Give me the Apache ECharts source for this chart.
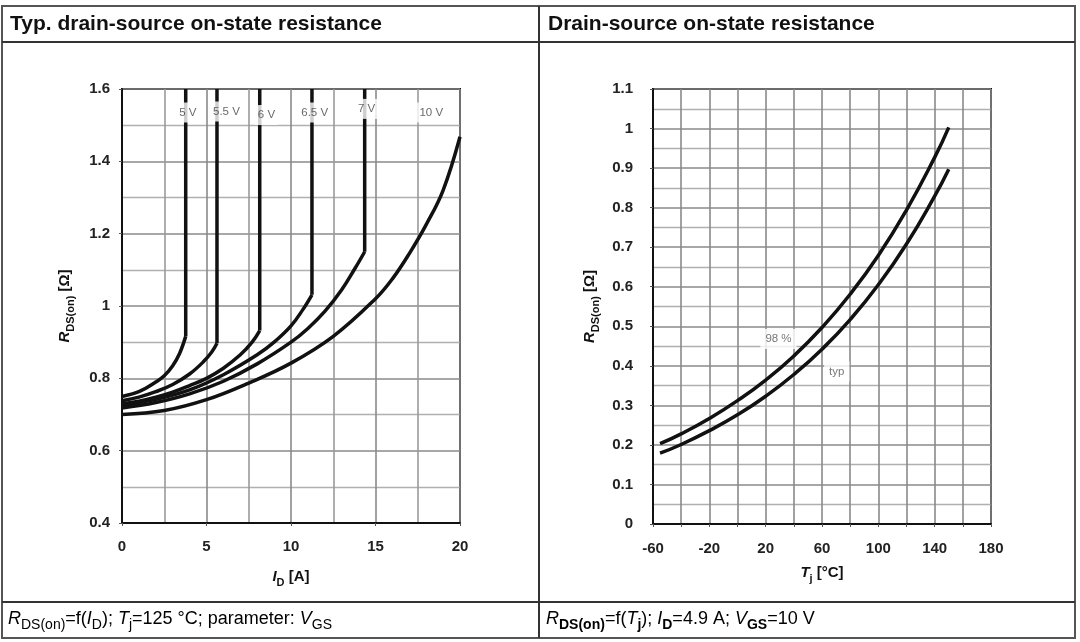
<!DOCTYPE html>
<html>
<head>
<meta charset="utf-8">
<script src="https://cdn.jsdelivr.net/npm/echarts@6/dist/echarts.min.js"></script>
<style>
html,body{margin:0;padding:0;background:#fff;}
#chart{width:1080px;height:642px;}
</style>
</head>
<body>
<div id="chart"></div>
<script>
// ---------- Left chart: RDS(on) vs ID, parameter VGS ----------
const vgsNames = ['5 V', '5.5 V', '6 V', '6.5 V', '7 V', '10 V'];
const curve5V  = [[0,0.75],[1,0.763],[2,0.79],[2.5,0.807],[3,0.835],[3.4,0.868],[3.77,0.916]];
const curve55V = [[0,0.738],[1,0.748],[2,0.763],[3,0.783],[4,0.812],[4.8,0.845],[5.3,0.872],[5.62,0.897]];
const curve6V  = [[0,0.73],[1,0.737],[2,0.748],[3,0.762],[4,0.78],[5,0.80],[6,0.828],[7,0.865],[7.7,0.9],[8.15,0.932]];
const curve65V = [[0,0.725],[2,0.742],[4,0.768],[6,0.81],[8,0.865],[9,0.9],[10,0.945],[10.7,0.99],[11.24,1.031]];
const curve7V  = [[0,0.718],[2,0.733],[4,0.757],[6,0.792],[8,0.84],[10,0.9],[11,0.938],[12,0.985],[13,1.045],[13.8,1.105],[14.36,1.15]];
const curve10V = [[0,0.70],[2.5,0.711],[5,0.741],[7.5,0.787],[10,0.842],[12.5,0.916],[15,1.02],[16,1.075],[17,1.145],[18,1.225],[19,1.32],[20,1.468]];
const vgsLabelPos = [[3.9,1.535],[6.18,1.538],[8.55,1.528],[11.4,1.535],[14.47,1.545],[18.3,1.535]];
const leftXTicks = {min:0, max:20, interval:5};
const leftYTicks = {min:0.4, max:1.6, interval:0.2};

// ---------- Right chart: RDS(on) vs Tj ----------
const tjValues  = [-55,-40,-20,0,20,40,60,80,100,120,140,150];
const rds98     = [0.203,0.228,0.267,0.312,0.364,0.425,0.497,0.581,0.679,0.794,0.927,1.003];
const rdsTyp    = [0.179,0.201,0.236,0.276,0.323,0.378,0.442,0.517,0.605,0.708,0.829,0.897];
const rightLabels = [['98 %',29.1,0.468],['typ',70.5,0.386]];
const rightXTicks = {min:-60, max:180, interval:20, labelStep:40};
const rightYTicks = {min:0, max:1.1, interval:0.1};

const FONT = '"Liberation Sans", Arial, Helvetica, sans-serif';
const LINE = '#111';
const curvesLeft = [curve5V, curve55V, curve6V, curve65V, curve7V, curve10V];

function nameRich(size){
  return {
    i:{fontFamily:FONT,fontStyle:'italic',fontWeight:'bold',fontSize:size,color:'#111',lineHeight:20,verticalAlign:'bottom'},
    n:{fontFamily:FONT,fontWeight:'bold',fontSize:size,color:'#111',lineHeight:20,verticalAlign:'bottom'},
    s:{fontFamily:FONT,fontWeight:'bold',fontSize:Math.round(size*0.72),color:'#111',lineHeight:14,verticalAlign:'bottom',padding:[0,0,-4,0]}
  };
}
function footRich(){
  return {
    i:{fontFamily:FONT,fontStyle:'italic',fontSize:18,color:'#111',lineHeight:22,verticalAlign:'bottom'},
    n:{fontFamily:FONT,fontSize:18,color:'#111',lineHeight:22,verticalAlign:'bottom'},
    s:{fontFamily:FONT,fontSize:14,color:'#111',lineHeight:14,verticalAlign:'bottom',padding:[0,0,-4,0]},
    sb:{fontFamily:FONT,fontSize:14,fontWeight:'bold',color:'#111',lineHeight:14,verticalAlign:'bottom',padding:[0,0,-4,0]}
  };
}

function valueAxis(gi, t, extra){
  return Object.assign({
    type:'value', gridIndex:gi, min:t.min, max:t.max, interval:t.interval,
    nameMoveOverlap:false,
    axisLine:{show:true, onZero:false, lineStyle:{color:'#111', width:2}},
    axisTick:{show:true, length:3, lineStyle:{color:'#555'}},
    axisLabel:{fontFamily:FONT, fontWeight:'bold', fontSize:15, color:'#222'},
    splitLine:{show:true, lineStyle:{color:'#8a8a8a', width:1.6}},
    minorTick:{show:false, splitNumber:2},
    minorSplitLine:{show:false, lineStyle:{color:'#b5b5b5', width:1.3}}
  }, extra);
}

const series = [];
curvesLeft.forEach((c, k) => {
  series.push({type:'line', xAxisIndex:0, yAxisIndex:0, data:c, smooth:0.4, showSymbol:false, symbol:'none',
    lineStyle:{color:LINE, width:3.5}, z:3, animation:false});
  if (k < 5) {
    const knee = c[c.length-1];
    series.push({type:'line', xAxisIndex:0, yAxisIndex:0, data:[knee,[knee[0], leftYTicks.max]], showSymbol:false, symbol:'none',
      lineStyle:{color:LINE, width:3.5}, z:3, animation:false});
  }
});
series.push({type:'scatter', xAxisIndex:0, yAxisIndex:0, symbolSize:0, z:10, zlevel:1, animation:false, silent:true,
  data: vgsLabelPos.map((p,k)=>({value:p, name:vgsNames[k]})),
  label:{show:true, position:'inside', formatter:p=>p.name, fontFamily:FONT, fontSize:11.5, color:'#444',
    backgroundColor:'#fff', padding:[4,3,4,3]}});
series.push({type:'line', xAxisIndex:1, yAxisIndex:1, data:tjValues.map((t,k)=>[t,rds98[k]]), smooth:true, showSymbol:false, symbol:'none',
  lineStyle:{color:LINE, width:3.5}, z:3, animation:false});
series.push({type:'line', xAxisIndex:1, yAxisIndex:1, data:tjValues.map((t,k)=>[t,rdsTyp[k]]), smooth:true, showSymbol:false, symbol:'none',
  lineStyle:{color:LINE, width:3.5}, z:3, animation:false});
series.push({type:'scatter', xAxisIndex:1, yAxisIndex:1, symbolSize:0, z:10, zlevel:1, animation:false, silent:true,
  data: rightLabels.map(l=>({value:[l[1],l[2]], name:l[0]})),
  label:{show:true, position:'inside', formatter:p=>p.name, fontFamily:FONT, fontSize:11.5, color:'#555',
    backgroundColor:'#fff', padding:[4,5,4,5]}});

const option = {
  backgroundColor:'#fff',
  animation:false,
  grid:[
    {left:122, top:89, width:338, height:434, show:true, borderColor:'#111', borderWidth:2, backgroundColor:'rgba(0,0,0,0)'},
    {left:653, top:89, width:338, height:435, show:true, borderColor:'#111', borderWidth:2, backgroundColor:'rgba(0,0,0,0)'}
  ],
  xAxis:[
    valueAxis(0, leftXTicks, {
      name:'{i|I}{s|D}{n| [A]}', nameLocation:'middle', nameGap:41,
      nameTextStyle:{rich:nameRich(15)},
      axisLabel:{fontFamily:FONT, fontWeight:'bold', fontSize:15, color:'#222', margin:16},
      minorSplitLine:{show:true, lineStyle:{color:'#9a9a9a', width:1.6}}
    }),
    valueAxis(1, rightXTicks, {
      name:'{i|T}{s|j}{n| [°C]}', nameLocation:'middle', nameGap:36,
      nameTextStyle:{rich:nameRich(15)},
      axisLabel:{fontFamily:FONT, fontWeight:'bold', fontSize:15, color:'#222', margin:17,
        formatter:v=> ((v - rightXTicks.min) % rightXTicks.labelStep === 0) ? String(v) : ''}
    })
  ],
  yAxis:[
    valueAxis(0, leftYTicks, {
      name:'{i|R}{s|DS(on)}{n| [Ω]}', nameLocation:'middle', nameGap:50,
      nameTextStyle:{rich:nameRich(15)},
      axisLabel:{fontFamily:FONT, fontWeight:'bold', fontSize:15, color:'#222', margin:12},
      minorSplitLine:{show:true, lineStyle:{color:'#b0b0b0', width:1.3}}
    }),
    valueAxis(1, rightYTicks, {
      name:'{i|R}{s|DS(on)}{n| [Ω]}', nameLocation:'middle', nameGap:56,
      nameTextStyle:{rich:nameRich(15)},
      axisLabel:{fontFamily:FONT, fontWeight:'bold', fontSize:15, color:'#222', margin:20},
      minorSplitLine:{show:true, lineStyle:{color:'#b0b0b0', width:1.3}}
    })
  ],
  series: series,
  graphic:[
    // table frame
    {type:'rect', shape:{x:2,y:6,width:1073,height:632}, style:{fill:'none', stroke:'#555', lineWidth:2}, z:100},
    {type:'line', shape:{x1:2,y1:42,x2:1075,y2:42}, style:{stroke:'#333', lineWidth:2}, z:100},
    {type:'line', shape:{x1:2,y1:602,x2:1075,y2:602}, style:{stroke:'#333', lineWidth:2}, z:100},
    {type:'line', shape:{x1:539,y1:6,x2:539,y2:638}, style:{stroke:'#333', lineWidth:2}, z:100},
    // headers
    {type:'text', left:10, top:14, z:100, style:{text:'Typ. drain-source on-state resistance', font:'bold 21px '+FONT, fill:'#111'}},
    {type:'text', left:548, top:14, z:100, style:{text:'Drain-source on-state resistance', font:'bold 21px '+FONT, fill:'#111'}},
    // footers
    {type:'text', left:8, top:610, z:100, style:{
      text:'{i|R}{s|DS(on)}{n|=f(}{i|I}{s|D}{n|); }{i|T}{s|j}{n|=125 °C; parameter: }{i|V}{s|GS}',
      rich:footRich()}},
    {type:'text', left:546, top:610, z:100, style:{
      text:'{i|R}{sb|DS(on)}{n|=f(}{i|T}{sb|j}{n|); }{i|I}{sb|D}{n|=4.9 A; }{i|V}{sb|GS}{n|=10 V}',
      rich:footRich()}}
  ]
};

const chart = echarts.init(document.getElementById('chart'), null, {renderer:'canvas'});
chart.setOption(option);
</script>
</body>
</html>
